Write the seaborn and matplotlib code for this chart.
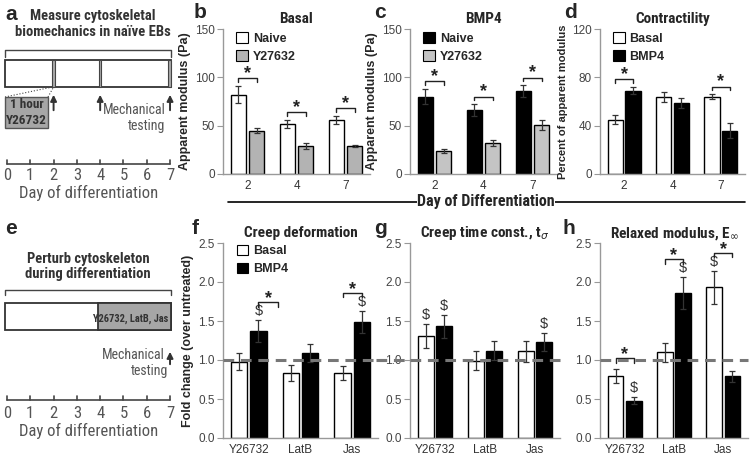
import os
import numpy as np
import pandas as pd
import matplotlib
matplotlib.use('Agg')
import matplotlib.pyplot as plt
import seaborn as sns
from matplotlib import font_manager
from matplotlib.patches import Rectangle
from matplotlib.lines import Line2D

# ---------------- data ----------------
days = ['2', '4', '7']
treatments = ['Y26732', 'LatB', 'Jas']

basal_naive = [82, 52, 56]
basal_naive_err = [9, 4, 4]
basal_y27 = [45, 29, 29]
basal_y27_err = [3, 3, 1]

bmp4_naive = [80, 66, 86]
bmp4_naive_err = [8, 6, 6]
bmp4_y27 = [24, 32, 51]
bmp4_y27_err = [2, 3, 5]

contr_basal = [45, 64, 64]
contr_basal_err = [4, 4, 2]
contr_bmp4 = [69, 59, 36]
contr_bmp4_err = [3, 4, 6]

creep_basal = [0.98, 0.83, 0.83]
creep_basal_err = [0.11, 0.10, 0.09]
creep_bmp4 = [1.37, 1.09, 1.49]
creep_bmp4_err = [0.14, 0.11, 0.14]

tau_basal = [1.31, 0.99, 1.11]
tau_basal_err = [0.15, 0.12, 0.13]
tau_bmp4 = [1.43, 1.12, 1.23]
tau_bmp4_err = [0.15, 0.12, 0.12]

relax_basal = [0.80, 1.10, 1.93]
relax_basal_err = [0.09, 0.12, 0.21]
relax_bmp4 = [0.48, 1.86, 0.79]
relax_bmp4_err = [0.05, 0.20, 0.07]

# significance annotations: (group, kind) ; dollar marks: (group, hue index)
stars_b = [(0, 'pair'), (1, 'pair'), (2, 'pair')]
stars_c = [(0, 'pair'), (1, 'pair'), (2, 'pair')]
stars_d = [(0, 'pair'), (2, 'pair')]
stars_f = [(0, 'right'), (2, 'pair')]
dollars_f = [(0, 1), (2, 1)]
dollars_g = [(0, 0), (0, 1), (2, 1)]
stars_h = [(0, 'pair'), (1, 'pair'), (2, 'pair')]
dollars_h = [(0, 1), (1, 1), (2, 0)]

timeline_days = list(range(8))
measure_days = [2, 4, 7]
treat_start_day = 3.9

# ---------------- style ----------------
sns.set_style('white')
fm_names = {f.name for f in font_manager.fontManager.ttflist}
MAIN = 'Liberation Sans' if 'Liberation Sans' in fm_names else 'DejaVu Sans'
plt.rcParams['font.family'] = [MAIN, 'DejaVu Sans']

# look for a condensed / narrow sans family
narrow_pick = None
prio = ['liberation sans narrow', 'arial narrow', 'roboto condensed', 'open sans condensed',
        'noto sans condensed', 'dejavu sans condensed', 'dejavu sans']
cands = []
for f in font_manager.fontManager.ttflist:
    nm = f.name.lower()
    fn = os.path.basename(f.fname).lower()
    st = str(f.stretch).lower()
    if f.style != 'normal':
        continue
    if ('narrow' in nm or 'condensed' in nm or 'narrow' in fn or 'condensed' in fn
            or 'condensed' in st):
        cands.append(f)
for p in prio:
    for f in cands:
        if f.name.lower() == p or (p in f.name.lower()) or p.replace(' ', '') in os.path.basename(f.fname).lower():
            narrow_pick = f
            break
    if narrow_pick is not None:
        break
if narrow_pick is not None:
    NF = dict(family=[narrow_pick.name, 'DejaVu Sans'], stretch=narrow_pick.stretch)
    NS = 1.0
else:
    NF = dict(family=[MAIN, 'DejaVu Sans'])
    NS = 0.84

fig = plt.figure(figsize=(7.5, 4.58), dpi=100)
W, H = 750.0, 458.0


def axes_px(left, top, right, bottom):
    return fig.add_axes([left / W, 1 - bottom / H, (right - left) / W, (bottom - top) / H])


def bar_panel(ax, cats, v1, e1, v2, e2, hue_names, colors, ymax, yticks, fmt,
              title, ylabel=None, legend=False, stars=(), dollars=(), dashed=False,
              dash_ext=1.0):
    df = pd.DataFrame({'cat': cats * 2, 'val': list(v1) + list(v2),
                       'grp': [hue_names[0]] * len(cats) + [hue_names[1]] * len(cats)})
    sns.barplot(data=df, x='cat', y='val', hue='grp', order=cats, hue_order=hue_names,
                palette=dict(zip(hue_names, colors)), edgecolor='black', linewidth=1.0,
                width=0.74, gap=0.14, errorbar=None, legend=False, ax=ax, zorder=2)
    errs = [e1, e2]
    centers, tops = [], []
    for i, cont in enumerate(ax.containers[:2]):
        cs, ts = [], []
        for j, bar in enumerate(cont):
            x = bar.get_x() + bar.get_width() / 2
            h = bar.get_height()
            ax.errorbar(x, h, yerr=errs[i][j], fmt='none', ecolor='#333', elinewidth=0.9,
                        capsize=2.5, capthick=0.9, zorder=3)
            cs.append(x)
            ts.append(h + errs[i][j])
        centers.append(cs)
        tops.append(ts)
    dollar_set = set(dollars)
    dh = 0.04 * ymax
    for (g, hi) in dollars:
        ax.text(centers[hi][g], tops[hi][g] + 0.010 * ymax, '$', ha='center', va='bottom',
                fontsize=10.5, color='#333', zorder=5)
    for (g, kind) in stars:
        t0 = tops[0][g] + (dh if (g, 0) in dollar_set else 0)
        t1 = tops[1][g] + (dh if (g, 1) in dollar_set else 0)
        if kind == 'pair':
            x1, x2 = centers[0][g], centers[1][g]
            y = max(t0, t1) + 0.052 * ymax
        else:
            x1 = centers[1][g]
            x2 = x1 + (centers[1][g] - centers[0][g]) * 1.05
            y = t1 + 0.052 * ymax
        leg = 0.022 * ymax
        ax.plot([x1, x1, x2, x2], [y - leg, y, y, y - leg], color='#222', lw=1.0, zorder=5)
        ax.text((x1 + x2) / 2, y - 0.024 * ymax, '*', ha='center', va='bottom', fontsize=13,
                fontweight='bold', color='#222', zorder=5)
    if dashed:
        ax.plot([0, dash_ext], [1.0, 1.0], transform=ax.get_yaxis_transform(), color='#777',
                ls=(0, (3.5, 2.2)), lw=2.2, zorder=6, clip_on=False)
    ax.set_xlim(-0.5, 2.5)
    ax.set_ylim(0, ymax)
    ax.set_yticks(yticks)
    ax.set_yticklabels([fmt.format(t) for t in yticks])
    ax.set_xticks([0.5, 1.5], minor=True)
    ax.tick_params(axis='x', which='major', length=0, labelsize=8.5, labelcolor='#333', pad=4)
    ax.tick_params(axis='x', which='minor', length=3, color='#999', direction='out')
    ax.tick_params(axis='y', which='major', length=4, color='#999', direction='out',
                   labelsize=8.5, labelcolor='#444', pad=2, left=True)
    for s in ['top', 'right']:
        ax.spines[s].set_visible(False)
    for s in ['left', 'bottom']:
        ax.spines[s].set_color('#999')
        ax.spines[s].set_linewidth(1.0)
    ax.set_xlabel('')
    if ylabel:
        ax.set_ylabel(ylabel, fontsize=9.0, fontweight='bold', labelpad=3)
    else:
        ax.set_ylabel('')
    ax.set_title(title, fontsize=11 * NS, fontweight='bold', pad=4, **NF)
    if legend:
        handles = [Rectangle((0, 0), 1, 1, fc=c, ec='black', lw=0.8) for c in colors]
        ax.legend(handles, hue_names, loc='upper left', bbox_to_anchor=(0.04, 1.03),
                  frameon=False, handlelength=0.9, handleheight=0.9, handletextpad=0.4,
                  labelspacing=0.45, borderaxespad=0.2, prop=dict(weight='bold', size=9))


WHITE, BLACK, GRAY, LGRAY = '#ffffff', '#000000', '#b3b3b3', '#c4c4c4'

ax_b = axes_px(223, 29, 370, 174)
bar_panel(ax_b, days, basal_naive, basal_naive_err, basal_y27, basal_y27_err,
          ['Naive', 'Y27632'], [WHITE, GRAY], 150, [0, 50, 100, 150], '{:.0f}',
          'Basal', 'Apparent modulus (Pa)', legend=True, stars=stars_b)

ax_c = axes_px(410, 29, 557, 174)
bar_panel(ax_c, days, bmp4_naive, bmp4_naive_err, bmp4_y27, bmp4_y27_err,
          ['Naive', 'Y27632'], [BLACK, LGRAY], 150, [0, 50, 100, 150], '{:.0f}',
          'BMP4', 'Apparent modulus (Pa)', legend=True, stars=stars_c)

ax_d = axes_px(600, 29, 745, 174)
bar_panel(ax_d, days, contr_basal, contr_basal_err, contr_bmp4, contr_bmp4_err,
          ['Basal', 'BMP4'], [WHITE, BLACK], 120, [0, 40, 80, 120], '{:.0f}',
          'Contractility', None, legend=True, stars=stars_d)
ax_d.set_ylabel('Percent of apparent modulus', fontsize=8, fontweight='bold', labelpad=3)

yt = [0.0, 0.5, 1.0, 1.5, 2.0, 2.5]
ax_f = axes_px(223, 243, 378, 438)
bar_panel(ax_f, treatments, creep_basal, creep_basal_err, creep_bmp4, creep_bmp4_err,
          ['Basal', 'BMP4'], [WHITE, BLACK], 2.5, yt, '{:.1f}',
          'Creep deformation', 'Fold change (over untreated)', legend=True,
          stars=stars_f, dollars=dollars_f, dashed=True, dash_ext=1.05)

ax_g = axes_px(410, 243, 560, 438)
bar_panel(ax_g, treatments, tau_basal, tau_basal_err, tau_bmp4, tau_bmp4_err,
          ['Basal', 'BMP4'], [WHITE, BLACK], 2.5, yt, '{:.1f}',
          r'Creep time const., t$_\sigma$', None, dollars=dollars_g,
          dashed=True, dash_ext=1.0)
ax_g.plot([-0.23, 0], [1.0, 1.0], transform=ax_g.get_yaxis_transform(), color='#777',
          ls=(0, (3.5, 2.2)), lw=2.2, zorder=6, clip_on=False)

ax_h = axes_px(600, 243, 748, 438)
bar_panel(ax_h, treatments, relax_basal, relax_basal_err, relax_bmp4, relax_bmp4_err,
          ['Basal', 'BMP4'], [WHITE, BLACK], 2.5, yt, '{:.1f}',
          r'Relaxed modulus, E$_\infty$', None, stars=stars_h, dollars=dollars_h,
          dashed=True, dash_ext=1.0)

# panel letters
for lbl, (x, y) in {'b': (194, 12), 'c': (374, 12), 'd': (564, 12),
                    'f': (192, 228), 'g': (374, 228), 'h': (562, 228)}.items():
    fig.text(x / W, 1 - y / H, lbl, fontsize=15, fontweight='bold', va='center', ha='left')

# shared x label for b-d
fig.add_artist(Line2D([228 / W, 745 / W], [1 - 202 / H, 1 - 202 / H], color='black', lw=1.2))
fig.text(486 / W, 1 - 201 / H, 'Day of Differentiation', fontsize=11.5 * NS, fontweight='bold',
         ha='center', va='center', bbox=dict(fc='white', ec='none', pad=0.3), **NF)

# ---------------- schematic panels ----------------
PXD = 23.29
X0 = 7


def X(px):
    return (px - X0) / PXD


GR = '#555'


def timeline(ax, yline, ylab, ytitle):
    ax.plot([timeline_days[0], timeline_days[-1]], [yline, yline], color='#444', lw=1.2)
    for d in timeline_days:
        ax.plot([d, d], [yline - 4.5, yline], color='#444', lw=1.2)
        ax.text(d, ylab, str(d), ha='center', va='center', fontsize=12 * NS, color=GR, **NF)
    ax.text(3.5, ytitle, 'Day of differentiation', ha='center', va='center', fontsize=12 * NS,
            color=GR, **NF)


# panel a
ax_a = fig.add_axes([0, 1 - 220 / H, 190 / W, 220 / H])
ax_a.set_xlim(X(0), X(190))
ax_a.set_ylim(220, 0)
ax_a.axis('off')
ax_a.text(X(5), 14, 'a', fontsize=15, fontweight='bold', va='center', ha='left')
ax_a.text(X(93), 24, 'Measure cytoskeletal\nbiomechanics in naïve EBs', ha='center',
          va='center', fontsize=10.5 * NS, fontweight='bold', color='#333', linespacing=1.15,
          **NF)
ax_a.plot([X(5), X(5), X(171), X(171)], [57, 50, 50, 57], color='#444', lw=1.0)
ax_a.add_patch(Rectangle((X(5), 60), X(171) - X(5), 27, fc='white', ec='#333', lw=1.3))
for d in measure_days:
    ax_a.add_patch(Rectangle((d - 0.07, 60), 0.12, 27, fc='#aaa', ec='#444', lw=0.8))
ax_a.add_patch(Rectangle((X(5), 97), X(48) - X(5), 31, fc='#a6a6a6', ec='#555', lw=1.0))
ax_a.text((X(5) + X(48)) / 2, 112.5, '1 hour\nY26732', ha='center', va='center',
          fontsize=9.5 * NS, fontweight='bold', color='#333', linespacing=1.2, **NF)
ax_a.plot([X(5), measure_days[0] - 0.05], [97, 87], color='#444', lw=0.8, ls=':')
ax_a.plot([X(48), measure_days[0]], [97, 87], color='#444', lw=0.8, ls=':')
for d in measure_days:
    ax_a.annotate('', xy=(d, 92), xytext=(d, 113),
                  arrowprops=dict(arrowstyle='-|>', color='#333', lw=1.4, mutation_scale=9))
ax_a.text(X(166), 110, 'Mechanical', ha='right', va='center', fontsize=10 * NS, color=GR, **NF)
ax_a.text(X(165), 126, 'testing', ha='right', va='center', fontsize=10 * NS, color=GR, **NF)
timeline(ax_a, 164, 175, 193)

# panel e
ax_e = fig.add_axes([0, 0, 190 / W, 238 / H])
ax_e.set_xlim(X(0), X(190))
ax_e.set_ylim(458, 220)
ax_e.axis('off')
ax_e.text(X(5), 228, 'e', fontsize=15, fontweight='bold', va='center', ha='left')
ax_e.text(X(88), 266.5, 'Perturb cytoskeleton\nduring differentiation', ha='center',
          va='center', fontsize=10.5 * NS, fontweight='bold', color='#333', linespacing=1.15,
          **NF)
ax_e.plot([X(5), X(5), X(171), X(171)], [295, 290, 290, 295], color='#444', lw=1.0)
ax_e.add_patch(Rectangle((X(5), 303), X(171) - X(5), 27, fc='white', ec='#333', lw=1.3))
ax_e.add_patch(Rectangle((treat_start_day, 303), X(171) - treat_start_day, 27, fc='#a6a6a6',
                         ec='#333', lw=1.3))
ax_e.text(X(168), 318.5, 'Y26732, LatB, Jas', ha='right', va='center', fontsize=7.5 * NS,
          fontweight='bold', color='#333', **NF)
ax_e.annotate('', xy=(measure_days[-1], 349), xytext=(measure_days[-1], 367),
              arrowprops=dict(arrowstyle='-|>', color='#333', lw=1.4, mutation_scale=9))
ax_e.text(X(165), 355, 'Mechanical', ha='right', va='center', fontsize=10 * NS, color=GR, **NF)
ax_e.text(X(168), 371, 'testing', ha='right', va='center', fontsize=10 * NS, color=GR, **NF)
timeline(ax_e, 400, 413, 431)

fig.savefig('out.png', dpi=100)
